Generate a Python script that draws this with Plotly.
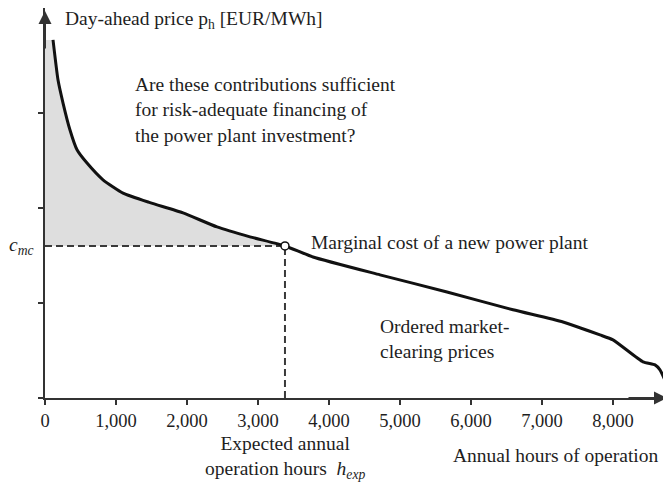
import plotly.graph_objects as go

# Data
hours = [113, 183, 254, 352, 451, 592, 817, 1099, 1479, 1944, 2423, 2887, 3380,
         3775, 4718, 5662, 6592, 7296, 7817, 8000, 8423, 8592, 8662, 8732]
prices = [94.2, 83.7, 77.6, 70.5, 65.3, 61.8, 57.4, 53.9, 51.4, 48.7, 45.0, 42.4, 40.0,
          37.1, 32.4, 27.9, 23.2, 20.0, 16.6, 15.3, 9.5, 8.7, 7.4, 4.7]
c_mc = 40.0
h_exp = 3380
x_ticks = [0, 1000, 2000, 3000, 4000, 5000, 6000, 7000, 8000]
x_tick_labels = ["0", "1,000", "2,000", "3,000", "4,000", "5,000", "6,000", "7,000", "8,000"]
y_ticks = [0, 25, 50, 75]

FONT = "Liberation Serif"
TXT = "#1e1e1e"
FS = 19.5

# Shaded area between curve and marginal cost up to h_exp
fill_x = [0, 0] + [h for h in hours if h <= h_exp]
fill_y = [c_mc, prices[0]] + [p for h, p in zip(hours, prices) if h <= h_exp]

fig = go.Figure()
fig.add_trace(go.Scatter(x=fill_x, y=fill_y, fill="toself", mode="none",
                         fillcolor="#dedede", hoverinfo="skip"))
fig.add_trace(go.Scatter(x=[0, h_exp], y=[c_mc, c_mc], mode="lines",
                         line=dict(color="#3a3a3a", width=2, dash="7px,4px")))
fig.add_trace(go.Scatter(x=[h_exp, h_exp], y=[0, c_mc], mode="lines",
                         line=dict(color="#3a3a3a", width=2, dash="7px,4px")))
fig.add_trace(go.Scatter(x=hours, y=prices, mode="lines",
                         line=dict(color="#111111", width=3, shape="spline", smoothing=0.5)))
fig.add_trace(go.Scatter(x=[h_exp], y=[c_mc], mode="markers",
                         marker=dict(size=8, color="white", line=dict(color="#111111", width=1.5))))

anns = [
    dict(x=0, y=1, xref="paper", yref="paper", ax=0, ay=40, yshift=-2,
         showarrow=True, arrowhead=2, arrowsize=1.3, arrowwidth=2, arrowcolor="#333333", text=""),
    dict(x=1, y=0, xref="paper", yref="paper", ax=-40, ay=0, xshift=-1,
         showarrow=True, arrowhead=2, arrowsize=1.3, arrowwidth=2, arrowcolor="#333333", text=""),
    dict(x=254, y=99.4, xref="x", yref="y", xanchor="left", yanchor="middle", showarrow=False,
         text="Day-ahead price p<sub>h</sub> [EUR/MWh]"),
    dict(x=1240, y=75.8, xref="x", yref="y", xanchor="left", yanchor="middle", align="left",
         showarrow=False,
         text="Are these contributions sufficient<br>for risk-adequate financing of<br>the power plant investment?"),
    dict(x=3718, y=40.8, xref="x", yref="y", xanchor="left", yanchor="middle", showarrow=False,
         text="Marginal cost of a new power plant"),
    dict(x=4690, y=15.5, xref="x", yref="y", xanchor="left", yanchor="middle", align="left",
         showarrow=False, text="Ordered market-<br>clearing prices"),
    dict(x=0, y=c_mc, xref="x", yref="y", xanchor="right", yanchor="middle", xshift=-9,
         showarrow=False, text="<i>c<sub>mc</sub></i>"),
    dict(x=h_exp, y=0, xref="x", yref="y", xanchor="center", yanchor="middle", yshift=-59,
         align="center", showarrow=False,
         text="Expected annual<br>operation hours  <i>h<sub>exp</sub></i>"),
    dict(x=1, y=0, xref="paper", yref="y", xanchor="right", yanchor="middle", yshift=-57,
         xshift=-8, showarrow=False, text="Annual hours of operation"),
]

# the page body adds an 8px offset, so the figure is 8px smaller than the window
fig.update_layout(
    width=663, height=474,
    margin=dict(l=37, r=3, t=0, b=84, autoexpand=False),
    paper_bgcolor="white", plot_bgcolor="white",
    showlegend=False,
    font=dict(family=FONT, size=FS, color=TXT),
    annotations=anns,
    xaxis=dict(range=[0, 8775], tickvals=x_ticks, ticktext=x_tick_labels, automargin=False,
               showgrid=False, zeroline=False, showline=True, linecolor="#333333", linewidth=2,
               ticks="outside", ticklen=5, tickwidth=1.5, tickcolor="#333333",
               ticklabelstandoff=0,
               tickfont=dict(family=FONT, size=18.5, color=TXT)),
    yaxis=dict(range=[0, 102.6], tickvals=y_ticks, showticklabels=False, automargin=False,
               showgrid=False, zeroline=False, showline=True, linecolor="#333333", linewidth=2,
               ticks="outside", ticklen=5, tickwidth=1.5, tickcolor="#333333"),
)

fig.write_html("out.html")
